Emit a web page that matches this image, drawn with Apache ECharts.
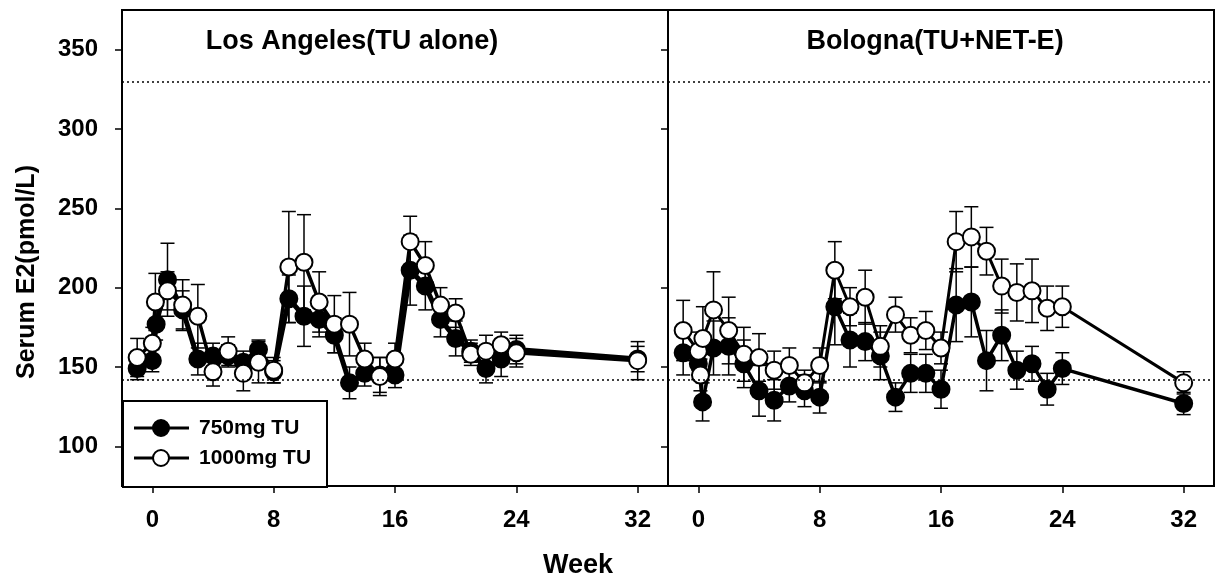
<!DOCTYPE html>
<html>
<head>
<meta charset="utf-8">
<script src="https://cdn.jsdelivr.net/npm/echarts@6/dist/echarts.min.js"></script>
<style>
  html, body { margin: 0; padding: 0; background: #fff; }
  #chart { width: 1217px; height: 584px; }
</style>
</head>
<body>
<div id="chart"></div>
<script>
// weeks and serum E2 (pmol/L), mean +/- SE
var laWeeks750 = [-1, 0, 0.25, 1, 2, 3, 4, 5, 6, 7, 8, 9, 10, 11, 12, 13, 14, 15, 16, 17, 18, 19, 20, 21, 22, 23, 24, 32]
var la750 = [149, 154, 177, 205, 186, 155, 157, 157, 153, 161, 147, 193, 182, 180, 170, 140, 146, 145, 145, 211, 201, 180, 168, 160, 149, 155, 161, 155]
var la750Err = [7, 7, 10, 23, 12, 10, 8, 7, 7, 6, 7, 15, 19, 11, 11, 10, 8, 11, 8, 22, 15, 11, 11, 7, 9, 11, 9, 8]

var laWeeks1000 = [-1, 0, 0.2, 1, 2, 3, 4, 5, 6, 7, 8, 9, 10, 11, 12, 13, 14, 15, 16, 17, 18, 19, 20, 21, 22, 23, 24, 32]
var la1000 = [156, 165, 191, 198, 189, 182, 147, 160, 146, 153, 148, 213, 216, 191, 177, 177, 155, 144, 155, 229, 214, 189, 184, 158, 160, 164, 159, 154]
var la1000Err = [12, 10, 18, 12, 16, 20, 9, 9, 11, 13, 8, 35, 30, 19, 18, 20, 10, 12, 10, 16, 15, 11, 9, 7, 10, 8, 9, 12]

var boWeeks750 = [-1, 0, 0.28, 1, 2, 3, 4, 5, 6, 7, 8, 9, 10, 11, 12, 13, 14, 15, 16, 17, 18, 19, 20, 21, 22, 23, 24, 32]
var bo750 = [159, 152, 128, 162, 163, 152, 135, 129, 138, 135, 131, 188, 167, 166, 157, 131, 146, 146, 136, 189, 191, 154, 170, 148, 152, 136, 149, 127]
var bo750Err = [14, 10, 12, 17, 18, 15, 16, 13, 10, 10, 10, 24, 17, 12, 15, 9, 12, 12, 12, 23, 22, 19, 16, 12, 11, 10, 10, 7]

var boWeeks1000 = [-1, 0, 0.14, 0.3, 1, 2, 3, 4, 5, 6, 7, 8, 9, 10, 11, 12, 13, 14, 15, 16, 17, 18, 19, 20, 21, 22, 23, 24, 32]
var bo1000 = [173, 160, 145, 168, 186, 173, 158, 156, 148, 151, 140, 151, 211, 188, 194, 163, 183, 170, 173, 162, 229, 232, 223, 201, 197, 198, 187, 188, 140]
var bo1000Err = [19, 12, 10, 20, 24, 21, 17, 15, 12, 11, 8, 11, 18, 12, 17, 13, 11, 11, 12, 10, 19, 19, 15, 17, 18, 20, 14, 13, 7]

var weekTicks = [0, 8, 16, 24, 32]
var e2Ticks = [100, 150, 200, 250, 300, 350]
var refLines = [330, 142]
var panelTitles = ['Los Angeles(TU alone)', 'Bologna(TU+NET-E)']
var seriesNames = ['750mg TU', '1000mg TU']

var FONT = '"Liberation Sans", Arial, sans-serif'

var chart = echarts.init(document.getElementById('chart'))

function pairs(xs, ys) {
  return xs.map(function (x, i) { return [x, ys[i]] })
}
function errData(xs, ys, es) {
  return xs.map(function (x, i) { return [x, ys[i], es[i]] })
}

function renderErr(params, api) {
  var x = api.value(0)
  var y = api.value(1)
  var e = api.value(2)
  var top = api.coord([x, y + e])
  var bot = api.coord([x, y - e])
  var half = 7
  var style = { stroke: '#000', lineWidth: 1.5 }
  return {
    type: 'group',
    children: [
      { type: 'line', shape: { x1: top[0], y1: top[1], x2: bot[0], y2: bot[1] }, style: style },
      { type: 'line', shape: { x1: top[0] - half, y1: top[1], x2: top[0] + half, y2: top[1] }, style: style },
      { type: 'line', shape: { x1: bot[0] - half, y1: bot[1], x2: bot[0] + half, y2: bot[1] }, style: style }
    ]
  }
}

function errSeries(idx, xs, ys, es) {
  return {
    type: 'custom',
    xAxisIndex: idx,
    yAxisIndex: idx,
    renderItem: renderErr,
    data: errData(xs, ys, es),
    z: 1,
    silent: true
  }
}

function lineSeries(idx, name, xs, ys, filled, width, withRef) {
  var s = {
    name: name,
    type: 'line',
    xAxisIndex: idx,
    yAxisIndex: idx,
    data: pairs(xs, ys),
    symbol: 'circle',
    symbolSize: 17,
    showAllSymbol: true,
    lineStyle: { color: '#000', width: width },
    itemStyle: { color: filled ? '#000' : '#fff', borderColor: '#000', borderWidth: 2 },
    z: filled ? 3 : 4
  }
  if (withRef) {
    s.markLine = {
      silent: true,
      symbol: 'none',
      label: { show: false },
      lineStyle: { color: '#000', width: 1.5, type: [2, 3] },
      data: refLines.map(function (v) { return { yAxis: v } })
    }
  }
  return s
}

function xAxisFor(idx) {
  return {
    type: 'value',
    gridIndex: idx,
    min: -2,
    max: 34,
    splitLine: { show: false },
    axisLine: { show: false, onZero: false },
    axisTick: { show: true, inside: false, length: 7, lineStyle: { color: '#000', width: 1.5 }, customValues: weekTicks },
    axisLabel: { customValues: weekTicks, margin: 22, color: '#000', fontSize: 24, fontWeight: 'bold', fontFamily: FONT }
  }
}

function yAxisFor(idx) {
  return {
    type: 'value',
    gridIndex: idx,
    min: 75,
    max: 375,
    splitLine: { show: false },
    axisLine: { show: false, onZero: false },
    axisTick: { show: true, inside: false, length: 7, lineStyle: { color: '#000', width: 1.5 }, customValues: e2Ticks },
    axisLabel: { show: idx === 0, customValues: e2Ticks, margin: 24, color: '#000', fontSize: 24, fontWeight: 'bold', fontFamily: FONT }
  }
}

// legend key drawn by hand so the line and marker match the plot
function legendRow(y, label, filled) {
  return [
    { type: 'line', z: 61, shape: { x1: 134, y1: y, x2: 189, y2: y }, style: { stroke: '#000', lineWidth: 3 } },
    { type: 'circle', z: 62, shape: { cx: 161, cy: y, r: 8 }, style: { fill: filled ? '#000' : '#fff', stroke: '#000', lineWidth: 2 } },
    { type: 'text', z: 61, x: 199, y: y, style: { text: label, fill: '#000', font: 'bold 21px ' + FONT, align: 'left', verticalAlign: 'middle' } }
  ]
}

var gridBase = { top: 10, width: 546, height: 476, show: true, borderColor: '#000', borderWidth: 2, backgroundColor: 'transparent' }

chart.setOption({
  animation: false,
  grid: [
    Object.assign({ left: 122 }, gridBase),
    Object.assign({ left: 668 }, gridBase)
  ],
  xAxis: [xAxisFor(0), xAxisFor(1)],
  yAxis: [yAxisFor(0), yAxisFor(1)],
  graphic: [
    { type: 'rect', left: 122, top: 400, shape: { width: 204, height: 86 }, style: { fill: '#fff', stroke: '#000', lineWidth: 2 }, z: 50 }
  ].concat(
    legendRow(428, seriesNames[0], true),
    legendRow(458, seriesNames[1], false),
    [
      { type: 'text', x: 352, y: 42, style: { text: panelTitles[0], fill: '#000', font: 'bold 27px ' + FONT, align: 'center', verticalAlign: 'middle' } },
      { type: 'text', x: 935, y: 42, style: { text: panelTitles[1], fill: '#000', font: 'bold 27px ' + FONT, align: 'center', verticalAlign: 'middle' } },
      { type: 'text', x: 27, y: 272, rotation: Math.PI / 2, style: { text: 'Serum E2(pmol/L)', fill: '#000', font: 'bold 25px ' + FONT, align: 'center', verticalAlign: 'middle' } },
      { type: 'text', x: 578, y: 566, style: { text: 'Week', fill: '#000', font: 'bold 27px ' + FONT, align: 'center', verticalAlign: 'middle' } }
    ]
  ),
  series: [
    errSeries(0, laWeeks750, la750, la750Err),
    errSeries(0, laWeeks1000, la1000, la1000Err),
    lineSeries(0, seriesNames[0], laWeeks750, la750, true, 5, true),
    lineSeries(0, seriesNames[1], laWeeks1000, la1000, false, 3.5, false),
    errSeries(1, boWeeks750, bo750, bo750Err),
    errSeries(1, boWeeks1000, bo1000, bo1000Err),
    lineSeries(1, seriesNames[0], boWeeks750, bo750, true, 3.5, true),
    lineSeries(1, seriesNames[1], boWeeks1000, bo1000, false, 3, false)
  ]
})
</script>
</body>
</html>
